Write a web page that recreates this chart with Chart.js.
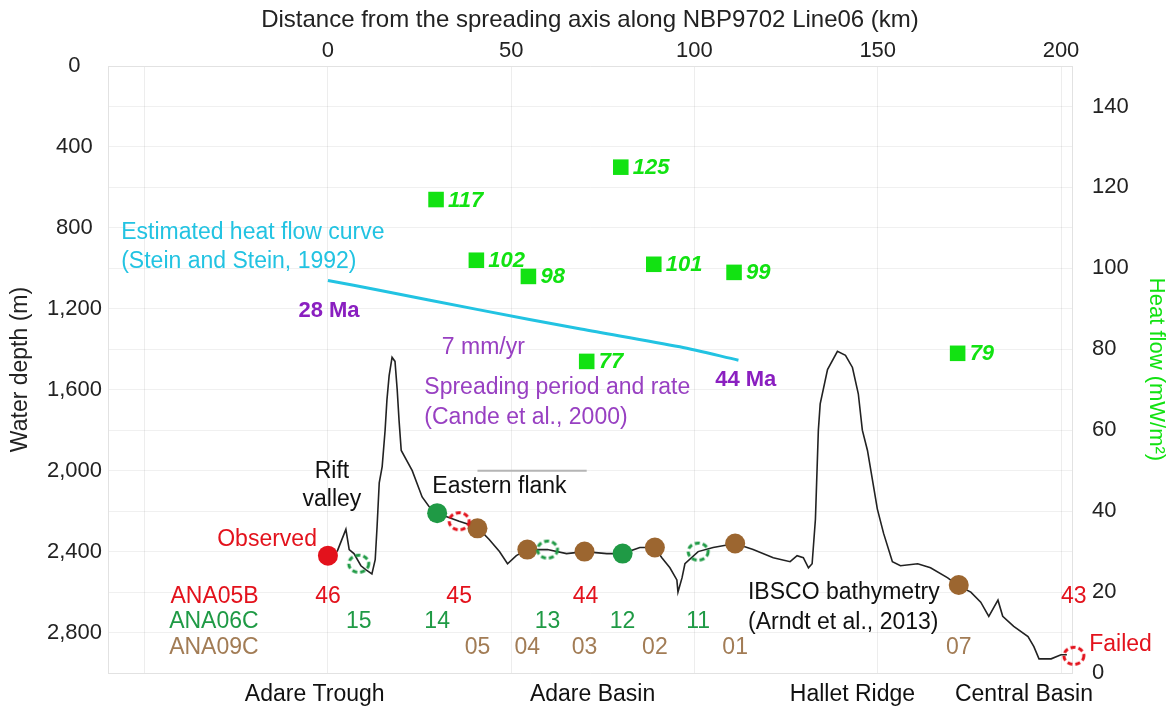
<!DOCTYPE html>
<html>
<head>
<meta charset="utf-8">
<script src="https://cdn.jsdelivr.net/npm/chart.js@4.4.1/dist/chart.umd.min.js"></script>
<style>
  html, body { margin: 0; padding: 0; background: #fff; }
  #wrap { width: 1174px; height: 710px; position: relative; }
</style>
</head>
<body>
<div id="wrap"><canvas id="profileChart"></canvas></div>
<script>
// ===== Data =====
// bathymetry profile (km from spreading axis, water depth in m)
const bathyKm = [2.5, 4.9, 5.8, 7.1, 9.0, 10.4, 12.0, 12.9, 13.4, 14.0, 14.8, 15.6, 16.1, 16.7, 17.5, 18.3, 18.9, 19.4, 20.0,
  23.0, 25.7, 28.5, 29.8, 35.8, 40.8, 44.0, 46.8, 49.0, 51.4, 54.4, 59.9, 65.1, 70.0, 76.1, 80.4, 85.1, 89.2, 91.1, 93.3,
  95.2, 95.5, 96.6, 97.4, 101.0, 105.1, 111.1, 116.0, 121.5, 126.1, 128.0, 129.7, 131.1, 132.1, 133.0, 133.8, 134.3, 136.3,
  139.0, 141.2, 143.1, 144.7, 145.8, 147.2, 149.9, 151.6, 154.0, 156.2, 160.9, 164.4, 169.1, 172.1, 175.4, 178.1, 180.3,
  182.8, 184.1, 187.1, 191.0, 192.6, 194.0, 197.3, 200.0, 201.6];
const bathyDepth = [2400, 2290, 2390, 2410, 2470, 2490, 2510, 2440, 2280, 2060, 1980, 1800, 1650, 1530, 1440, 1460, 1600, 1750, 1900,
  2000, 2130, 2200, 2210, 2250, 2280, 2340, 2400, 2460, 2420, 2390, 2390, 2410, 2400, 2410, 2410, 2380, 2380, 2430, 2480,
  2540, 2600, 2530, 2460, 2400, 2380, 2360, 2390, 2430, 2450, 2420, 2430, 2480, 2460, 2240, 1800, 1670, 1500,
  1410, 1430, 1490, 1620, 1800, 1900, 2190, 2310, 2450, 2470, 2460, 2480, 2530, 2570, 2600, 2650, 2720,
  2640, 2720, 2770, 2820, 2870, 2930, 2930, 2910, 2910];

// measured heat flow (mW/m2)
const heatKm = [29.5, 79.9, 40.5, 54.7, 88.9, 110.8, 70.6, 171.8];
const heatFlow = [117, 125, 102, 98, 101, 99, 77, 79];

// estimated heat flow curve (Stein and Stein, 1992)
const curveKm = [0, 14, 41, 69, 96, 112];
const curveHeat = [97, 94.6, 89.8, 85, 80.6, 77.3];

// coring sites per cruise: name, km, depth on profile (null = no marker), recovered or not
const ana05Names = ['46', '45', '44', '43'];
const ana05Km = [0, 35.8, 70.3, 203.5];
const ana05Depth = [2420, 2250, null, 2915];
const ana05Ok = [true, false, false, false];

const ana06Names = ['15', '14', '13', '12', '11'];
const ana06Km = [8.4, 29.8, 59.9, 80.4, 101.0];
const ana06Depth = [2460, 2210, 2390, 2410, 2400];
const ana06Ok = [false, true, false, true, false];

const ana09Names = ['05', '04', '03', '02', '01', '07'];
const ana09Km = [40.8, 54.4, 70.0, 89.2, 111.1, 172.1];
const ana09Depth = [2285, 2390, 2400, 2380, 2360, 2565];
const ana09Ok = [true, true, true, true, true, true];

const flankKm = [40.8, 70.6];
const flankDepth = [2000, 2000];

const regionNames = ['Adare Trough', 'Adare Basin', 'Hallet Ridge', 'Central Basin'];
const regionKm = [-3.6, 72.2, 143.1, 189.9];

// ===== Styles =====
const FONT = '"Liberation Sans", Arial, sans-serif';
const RED = '#e3121c';
const GREEN = '#1f9a45';
const BROWN = '#9c6630';
const BROWN_TXT = '#a27c55';
const PURPLE = '#8a1fc0';
const PURPLE_LT = '#9840c2';
const CYAN = '#22c3e2';
const HF_GREEN = '#12e212';

Chart.defaults.font.family = FONT;
Chart.defaults.color = '#222';

function pairs(xs, ys) {
  return xs.map((v, i) => ({ x: v, y: ys[i] }));
}

function dashedRing(color) {
  const c = document.createElement('canvas');
  c.width = 26; c.height = 26;
  const g = c.getContext('2d');
  g.strokeStyle = color;
  g.lineWidth = 3;
  g.setLineDash([5, 3]);
  g.beginPath();
  g.ellipse(13, 13, 10, 8.5, 0, 0, Math.PI * 2);
  g.stroke();
  return c;
}

function siteDataset(km, depth, ok, color) {
  const pts = [], styles = [];
  km.forEach((k, i) => {
    if (depth[i] === null) return;
    pts.push({ x: k, y: depth[i] });
    styles.push(ok[i] ? 'circle' : dashedRing(color));
  });
  return {
    data: pts, yAxisID: 'y', pointStyle: styles, pointRadius: 10, clip: false,
    backgroundColor: color, borderColor: color, borderWidth: 0, showLine: false
  };
}

// free text on the plot, placed in data units
const notes = [
  { text: 'Estimated heat flow curve', km: -56.4, depth: 825, color: CYAN, align: 'left' },
  { text: '(Stein and Stein, 1992)', km: -56.4, depth: 969, color: CYAN, align: 'left' },
  { text: '28 Ma', km: 0.3, depth: 1211, color: PURPLE, bold: true },
  { text: '7 mm/yr', km: 42.4, depth: 1394, color: PURPLE_LT },
  { text: '44 Ma', km: 114, depth: 1550, color: PURPLE, bold: true },
  { text: 'Spreading period and rate', km: 26.3, depth: 1592, color: PURPLE_LT, align: 'left' },
  { text: '(Cande et al., 2000)', km: 26.3, depth: 1740, color: PURPLE_LT, align: 'left' },
  { text: 'Rift', km: 1.1, depth: 2007, color: '#111' },
  { text: 'valley', km: 1.1, depth: 2145, color: '#111' },
  { text: 'Observed', km: -3.0, depth: 2343, color: RED, align: 'right' },
  { text: 'Eastern flank', km: 46.8, depth: 2081, color: '#111' },
  { text: 'IBSCO bathymetry', km: 114.6, depth: 2605, color: '#111', align: 'left' },
  { text: '(Arndt et al., 2013)', km: 114.6, depth: 2753, color: '#111', align: 'left' },
  { text: 'Failed', km: 207.7, depth: 2862, color: RED, align: 'left' },
  { text: 'ANA05B', km: -18.9, depth: 2625, color: RED, align: 'right' },
  { text: 'ANA06C', km: -18.9, depth: 2748, color: GREEN, align: 'right' },
  { text: 'ANA09C', km: -18.9, depth: 2877, color: BROWN_TXT, align: 'right' }
];

const siteRows = [
  { names: ana05Names, km: ana05Km, depth: 2625, color: RED },
  { names: ana06Names, km: ana06Km, depth: 2748, color: GREEN },
  { names: ana09Names, km: ana09Km, depth: 2877, color: BROWN_TXT }
];

const notesPlugin = {
  id: 'notes',
  afterDraw(chart) {
    const { ctx } = chart;
    const x = chart.scales.x, y = chart.scales.y;
    ctx.save();
    ctx.textBaseline = 'middle';
    notes.forEach(n => {
      ctx.font = (n.bold ? 'bold 22px ' : '23px ') + FONT;
      ctx.fillStyle = n.color;
      ctx.textAlign = n.align || 'center';
      ctx.fillText(n.text, x.getPixelForValue(n.km), y.getPixelForValue(n.depth));
    });
    ctx.font = '23px ' + FONT;
    ctx.textAlign = 'center';
    siteRows.forEach(r => {
      ctx.fillStyle = r.color;
      r.names.forEach((s, i) => ctx.fillText(s, x.getPixelForValue(r.km[i]), y.getPixelForValue(r.depth)));
    });
    // heat flow values next to the squares
    const meta = chart.getDatasetMeta(3);
    ctx.font = 'italic bold 22px ' + FONT;
    ctx.fillStyle = HF_GREEN;
    ctx.textAlign = 'left';
    meta.data.forEach((pt, i) => ctx.fillText(String(heatFlow[i]), pt.x + 12, pt.y + 1));
    ctx.restore();
  }
};

const ctx = document.getElementById('profileChart').getContext('2d');
new Chart(ctx, {
  type: 'scatter',
  plugins: [notesPlugin],
  data: {
    datasets: [
      siteDataset(ana05Km, ana05Depth, ana05Ok, RED),
      siteDataset(ana06Km, ana06Depth, ana06Ok, GREEN),
      siteDataset(ana09Km, ana09Depth, ana09Ok, BROWN),
      {
        data: pairs(heatKm, heatFlow), yAxisID: 'y2', pointStyle: 'rect', pointRadius: 11,
        backgroundColor: HF_GREEN, borderColor: HF_GREEN, borderWidth: 0, showLine: false
      },
      {
        data: pairs(curveKm, curveHeat), yAxisID: 'y2', showLine: true, pointRadius: 0,
        borderColor: CYAN, borderWidth: 3, tension: 0.3
      },
      {
        data: pairs(flankKm, flankDepth), yAxisID: 'y', showLine: true, pointRadius: 0,
        borderColor: '#b5b5b5', borderWidth: 2
      },
      {
        data: pairs(bathyKm, bathyDepth), yAxisID: 'y', showLine: true, pointRadius: 0,
        borderColor: '#222', borderWidth: 1.6, tension: 0
      }
    ]
  },
  options: {
    responsive: true,
    maintainAspectRatio: false,
    animation: false,
    layout: { padding: 0 },
    plugins: { legend: { display: false }, tooltip: { enabled: false } },
    scales: {
      x: {
        type: 'linear', position: 'top', min: -60, max: 203,
        title: { display: true, text: 'Distance from the spreading axis along NBP9702 Line06 (km)',
          font: { size: 24 }, color: '#222', padding: { top: 6, bottom: 0 } },
        ticks: { stepSize: 50, includeBounds: false, padding: 2, font: { size: 22 }, maxRotation: 0,
          callback: v => (v < 0 ? '' : v) },
        grid: { color: 'rgba(0,0,0,0.07)', drawTicks: false },
        border: { color: '#e2e2e2' },
        afterFit: s => { s.height = 66; }
      },
      x2: {
        type: 'linear', position: 'bottom', min: -60, max: 203,
        afterBuildTicks: s => { s.ticks = regionKm.map(v => ({ value: v })); },
        ticks: { autoSkip: false, maxRotation: 0, padding: 8, font: { size: 23 }, color: '#111',
          callback: (v, i) => regionNames[i] },
        grid: { display: false, drawTicks: false },
        border: { color: '#e2e2e2' },
        afterFit: s => { s.height = 37; }
      },
      y: {
        position: 'left', min: 0, max: 3000, reverse: true,
        title: { display: true, text: 'Water depth (m)', font: { size: 23 }, color: '#222', padding: { top: 7, bottom: 0 } },
        ticks: { stepSize: 200, includeBounds: false, padding: 6, crossAlign: 'center', font: { size: 22 },
          callback: v => (v % 400 === 0 ? v.toLocaleString('en-US') : '') },
        grid: { color: 'rgba(0,0,0,0.06)', drawTicks: false },
        border: { color: '#e2e2e2' },
        afterFit: s => { s.width = 108; }
      },
      y2: {
        position: 'right', min: 0, max: 150,
        title: { display: true, text: 'Heat flow (mW/m²)', font: { size: 22 }, color: HF_GREEN, padding: { top: 5, bottom: 0 } },
        ticks: { stepSize: 20, includeBounds: false, padding: 20, font: { size: 22 } },
        grid: { drawOnChartArea: false, drawTicks: false },
        border: { color: '#e2e2e2' },
        afterFit: s => { s.width = 102; }
      }
    }
  }
});
</script>
</body>
</html>
